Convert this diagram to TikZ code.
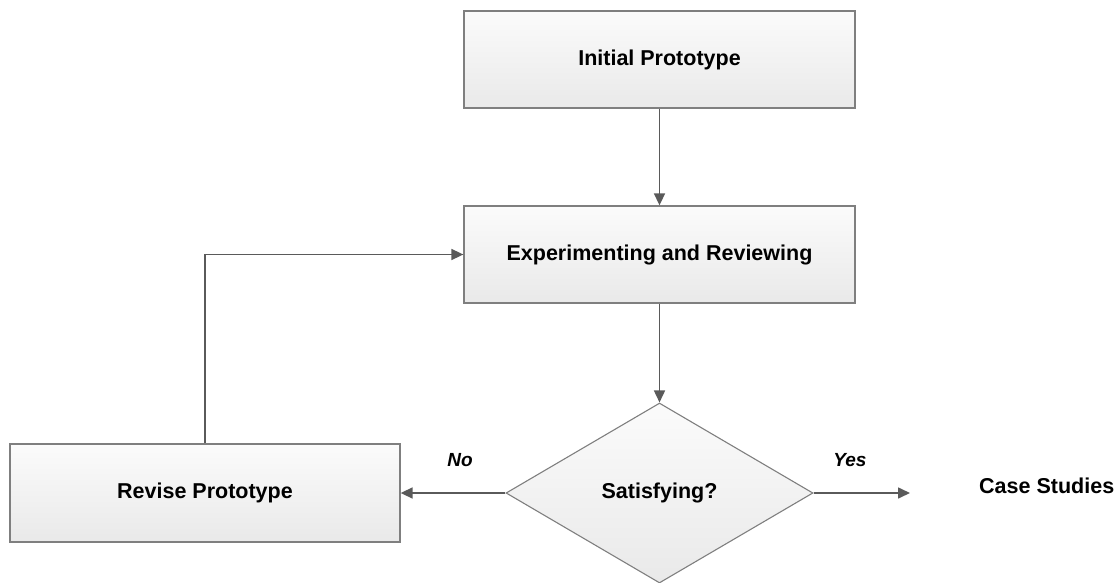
\documentclass[tikz,border=0pt]{standalone}
\usepackage{fontspec}
\setmainfont{Liberation Sans}
\usetikzlibrary{arrows.meta,shapes.geometric}
\definecolor{linegray}{HTML}{5A5A5A}
\definecolor{bordergray}{HTML}{7F7F7F}
\definecolor{filltop}{HTML}{FBFBFB}
\definecolor{fillbot}{HTML}{E9E9E9}
\tikzset{
  procbox/.style={rectangle, draw=bordergray, line width=1.3pt, top color=filltop, bottom color=fillbot,
    minimum width=391pt, minimum height=97pt, inner sep=0pt,
    font=\fontsize{21.5}{25}\selectfont\bfseries},
  decbox/.style={diamond, draw=bordergray, line width=1.1pt, top color=filltop, bottom color=fillbot,
    minimum width=307pt, minimum height=180pt, inner sep=0pt,
    font=\fontsize{21.5}{25}\selectfont\bfseries},
  plaintext/.style={inner sep=0pt, font=\fontsize{21.5}{24}\selectfont\bfseries},
  edgelabel/.style={inner sep=0pt, font=\fontsize{19}{22}\selectfont\bfseries\itshape},
  conn/.style={draw=linegray, line width=1.6pt, -{Triangle[length=12pt,width=11pt]}}
}
\begin{document}
\begin{tikzpicture}[x=1pt,y=-1pt]
\useasboundingbox (0,0) rectangle (1118,583);
\node[procbox] (init) at (659.5,59.5) {Initial Prototype};
\node[procbox] (exp) at (659.5,254.5) {Experimenting and Reviewing};
\node[procbox, minimum width=390pt, minimum height=98pt] (rev) at (205,493) {Revise Prototype};
\node[decbox] (dia) at (659.5,493) {Satisfying?};
\node[plaintext, anchor=base west] (cs) at (979,493) {Case Studies};
\node[edgelabel] (no) at (460,460) {No};
\node[edgelabel] (yes) at (850,460) {Yes};
\coordinate (csin) at (910,493);
\draw[conn] (init.south) -- (exp.north);
\draw[conn] (exp.south) -- (dia.north);
\draw[conn] (dia.west) -- (rev.east);
\draw[conn] (rev.north) |- (exp.west);
\draw[conn] (dia.east) -- (csin);
\end{tikzpicture}
\end{document}
